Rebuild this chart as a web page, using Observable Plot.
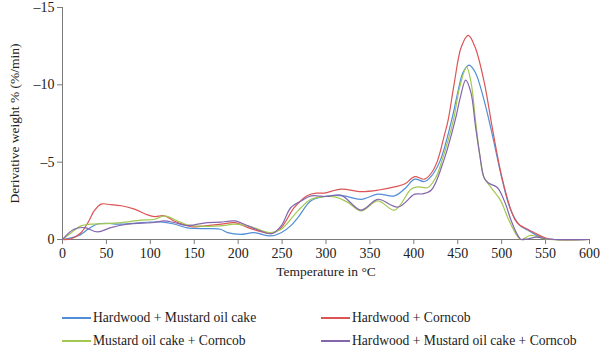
<!DOCTYPE html>
<html>
<head>
<meta charset="utf-8">
<script src="https://cdn.jsdelivr.net/npm/d3@7"></script>
<script src="https://cdn.jsdelivr.net/npm/@observablehq/plot@0.6"></script>
<style>
  body { margin: 0; background: #fff; }
  #wrap { position: relative; width: 600px; height: 354px; font-family: "Liberation Serif", "Times New Roman", "DejaVu Serif", serif; color: #222; }
  .leg { position: absolute; font-size: 13.6px; line-height: 16px; white-space: nowrap; }
  .sw { position: absolute; width: 29px; height: 1.5px; }
</style>
</head>
<body>
<div id="wrap"><div id="chart"></div></div>
<script>
const seriesNames = ["Hardwood + Mustard oil cake", "Hardwood + Corncob", "Mustard oil cake + Corncob", "Hardwood + Mustard oil cake + Corncob"];
const seriesColors = ["#4f8ed6", "#dc5454", "#a2c852", "#8466ad"];

const hmT = [0,10,20,30,40,50,60,70,80,90,100,112,127,142,150,165,180,188,203,218,237,249,260,268,283,300,320,340,359,378,390,401,412,420,430,443,450,456,463,470,480,490,500,510,520,530,540,550,560,600];
const hmV = [0,-0.1,-0.3,-0.7,-1.0,-1.05,-1.0,-1.0,-1.05,-1.1,-1.12,-1.14,-1.0,-0.75,-0.72,-0.7,-0.66,-0.44,-0.33,-0.44,-0.23,-0.44,-0.9,-1.42,-2.5,-2.8,-2.82,-2.6,-2.93,-2.82,-3.3,-3.9,-3.75,-4.1,-5.1,-7.7,-9.5,-10.8,-11.27,-10.8,-9.0,-6.6,-4.0,-1.95,-0.95,-0.6,-0.25,-0.05,0,0];

const hcT = [0,10,21,30,36,44,55,67,82,97,105,116,127,143,150,165,181,196,211,226,238,249,264,279,290,298,317,340,360,378,390,401,412,420,427,435,439,446,454,462,470,480,490,500,510,515,520,530,540,550,560,600];
const hcV = [0,-0.05,-0.44,-1.2,-1.85,-2.29,-2.25,-2.18,-1.96,-1.59,-1.48,-1.53,-1.2,-0.88,-0.81,-0.9,-0.99,-1.09,-0.77,-0.51,-0.4,-0.77,-2.07,-2.85,-3.0,-3.0,-3.26,-3.1,-3.2,-3.4,-3.6,-4.06,-3.9,-4.3,-5.1,-6.8,-7.7,-10.1,-12.45,-13.2,-12.4,-10.2,-7.0,-4.1,-2.0,-1.3,-0.95,-0.65,-0.35,-0.1,0,0];

const mcT = [0,10,21,32,50,67,89,105,116,131,142,150,165,180,196,211,226,237,249,268,283,300,310,325,340,359,378,397,405,416,425,432,445,452,460,465,470,475,480,488,499,507,518,522,533,545,555,600];
const mcV = [0,-0.44,-0.88,-0.99,-1.02,-1.09,-1.25,-1.31,-1.53,-1.2,-0.95,-0.88,-0.85,-0.88,-0.99,-0.88,-0.6,-0.44,-0.66,-1.85,-2.6,-2.78,-2.76,-2.4,-1.85,-2.5,-1.9,-3.26,-3.4,-3.36,-4.0,-5.1,-7.7,-9.8,-11.15,-10.2,-7.8,-5.5,-4.0,-3.36,-2.5,-1.4,-0.2,0,-0.27,-0.1,0,0];

const hmcT = [0,13,25,40,55,74,104,116,127,142,150,165,180,196,211,226,238,249,260,272,283,300,317,340,359,382,401,410,420,434,447,453,459,465,470,475,480,485,495,503,511,518,522,530,540,550,560,600];
const hmcV = [0,-0.66,-0.77,-0.49,-0.77,-0.99,-1.1,-1.2,-1.1,-0.9,-0.95,-1.09,-1.12,-1.2,-0.88,-0.55,-0.37,-0.88,-2.07,-2.5,-2.82,-2.78,-2.87,-1.9,-2.6,-2.1,-2.93,-2.95,-3.2,-5.1,-7.7,-9.2,-10.3,-9.5,-7.4,-5.5,-4.0,-3.65,-3.36,-2.5,-1.2,-0.3,0,-0.05,-0.15,-0.05,0,0];

const xTicks = [0,50,100,150,200,250,300,350,400,450,500,550,600];
const yTicks = [0,-5,-10,-15];
const xLabel = "Temperature in °C";
const yLabel = "Derivative weight % (%/min)";

const seriesT = [hmT, hcT, mcT, hmcT];
const seriesV = [hmV, hcV, mcV, hmcV];
const data = [];
seriesT.forEach((ts, i) => ts.forEach((t, j) => data.push({series: seriesNames[i], t, v: seriesV[i][j]})));

const axisGray = "#7a7a7a";
const fontFam = "'Liberation Serif', 'Times New Roman', 'DejaVu Serif', serif";
const chart = Plot.plot({
  width: 600,
  height: 285,
  marginLeft: 62,
  marginRight: 11,
  marginTop: 7,
  marginBottom: 46,
  style: {fontFamily: fontFam, fontSize: "14px", color: "#222", background: "#fff"},
  x: {domain: [0, 600]},
  y: {domain: [0, -15]},
  color: {domain: seriesNames, range: seriesColors},
  marks: [
    Plot.ruleY([0], {stroke: axisGray}),
    Plot.ruleX([0], {stroke: axisGray}),
    Plot.axisX({ticks: xTicks, tickSize: 5, tickPadding: 4, stroke: axisGray, fill: "#222", label: null, tickFormat: d => String(d)}),
    Plot.axisY({ticks: yTicks, tickSize: 5, tickPadding: 3, stroke: axisGray, fill: "#222", label: null, tickFormat: d => d === 0 ? "0" : "\u2013" + Math.abs(d)}),
    Plot.line(data, {x: "t", y: "v", z: "series", stroke: "series", strokeWidth: 1.2, curve: "catmull-rom"}),
    Plot.text([xLabel], {frameAnchor: "bottom", dy: 36, fill: "#222", fontSize: 13.5}),
    Plot.text([yLabel], {frameAnchor: "left", textAnchor: "middle", dx: -48, rotate: -90, fill: "#222", fontSize: 13.5})
  ]
});
document.getElementById("chart").appendChild(chart);

const wrap = document.getElementById("wrap");
const legPos = [[62, 318], [321, 318], [62, 341], [321, 341]];
seriesNames.forEach((name, i) => {
  const [x, y] = legPos[i];
  const sw = document.createElement("div");
  sw.className = "sw";
  sw.style.left = x + "px";
  sw.style.top = (y - 0.75) + "px";
  sw.style.background = seriesColors[i];
  wrap.appendChild(sw);
  const t = document.createElement("div");
  t.className = "leg";
  t.style.left = (x + 31) + "px";
  t.style.top = (y - 8) + "px";
  t.textContent = name;
  wrap.appendChild(t);
});
</script>
</body>
</html>
